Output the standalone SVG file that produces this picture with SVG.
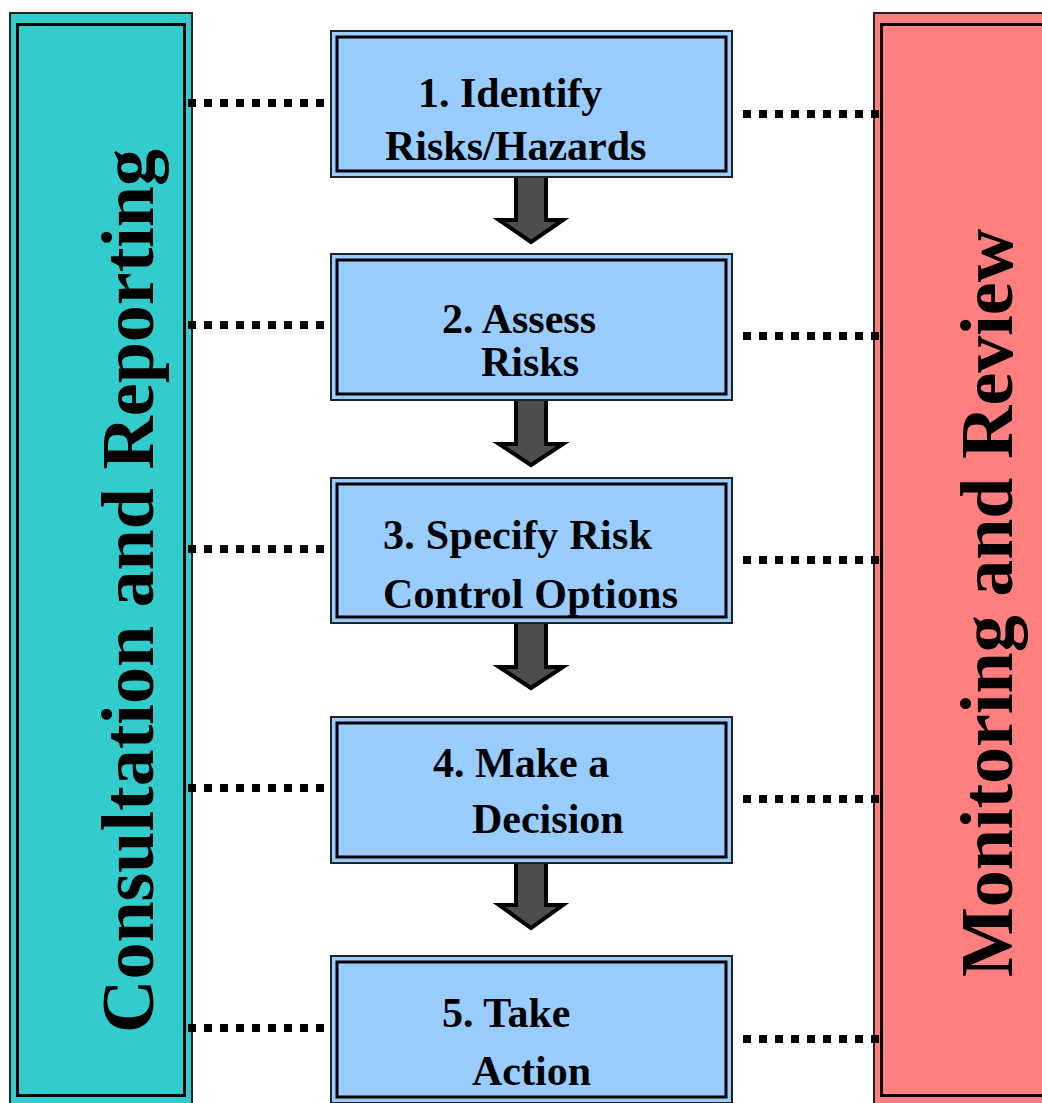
<svg xmlns="http://www.w3.org/2000/svg" width="1042" height="1103" viewBox="0 0 1042 1103">
<style>
.outer{stroke:#222;stroke-width:2}
.inner{fill:none;stroke:#000;stroke-width:3}
.box{fill:#99CCFF}
.lbl{font-family:"Liberation Serif","Times New Roman",serif;font-weight:bold;font-size:42px;fill:#000}
.side{font-family:"Liberation Serif","Times New Roman",serif;font-weight:bold;font-size:74px;fill:#000;text-anchor:middle}
.dots{stroke:#000;stroke-width:8;stroke-dasharray:8 8;fill:none}
.arr{fill:#4D4D4D;stroke:#000;stroke-width:4;stroke-linejoin:miter}
</style>
<rect width="1042" height="1103" fill="#fff"/>
<g id="consultation">
<rect class="outer" x="10" y="13" width="182" height="1100" fill="#33CCCC"/>
<rect class="inner" x="17.5" y="24.5" width="167" height="1071"/>
<text class="side" transform="translate(153,591) rotate(-90)">Consultation and Reporting</text>
</g>
<g id="monitoring">
<rect class="outer" x="874" y="13" width="180" height="1100" fill="#FF7F7F"/>
<rect class="inner" x="881.5" y="24.5" width="170" height="1071"/>
<text class="side" transform="translate(1012,603) rotate(-90)">Monitoring and Review</text>
</g>
<g id="connectors">
<path class="dots" d="M188 103H326M188 325H326M188 549H326M188 788H326M188 1028H326"/>
<path class="dots" d="M743 114H881M743 336H881M743 560H881M743 799H881M743 1039H881"/>
<polygon class="arr" points="516,175 546,175 546,220 563,220 531,242 499,220 516,220"/>
<polygon class="arr" points="516,399 546,399 546,444 563,444 531,465 499,444 516,444"/>
<polygon class="arr" points="516,620 546,620 546,667 563,667 531,688 499,667 516,667"/>
<polygon class="arr" points="516,859 546,859 546,905 563,905 531,928 499,905 516,905"/>
</g>
<g id="step1">
<rect class="outer box" x="331" y="31" width="401" height="146"/>
<rect class="inner" x="337" y="37" width="389" height="134"/>
<text class="lbl" x="418" y="107">1. Identify</text>
<text class="lbl" x="385" y="160">Risks/Hazards</text>
</g>
<g id="step2">
<rect class="outer box" x="331" y="254" width="401" height="146"/>
<rect class="inner" x="337" y="260" width="389" height="134"/>
<text class="lbl" x="442" y="333">2. Assess</text>
<text class="lbl" x="481" y="376">Risks</text>
</g>
<g id="step3">
<rect class="outer box" x="331" y="478" width="401" height="145"/>
<rect class="inner" x="337" y="484" width="389" height="133"/>
<text class="lbl" x="383" y="549" textLength="269">3. Specify Risk</text>
<text class="lbl" x="383" y="608" textLength="295">Control Options</text>
</g>
<g id="step4">
<rect class="outer box" x="331" y="717" width="401" height="146"/>
<rect class="inner" x="337" y="723" width="389" height="134"/>
<text class="lbl" x="433" y="777">4. Make a</text>
<text class="lbl" x="472" y="833">Decision</text>
</g>
<g id="step5">
<rect class="outer box" x="331" y="956" width="401" height="147"/>
<rect class="inner" x="337" y="962" width="389" height="135"/>
<text class="lbl" x="442" y="1027">5. Take</text>
<text class="lbl" x="472" y="1085">Action</text>
</g>
</svg>
